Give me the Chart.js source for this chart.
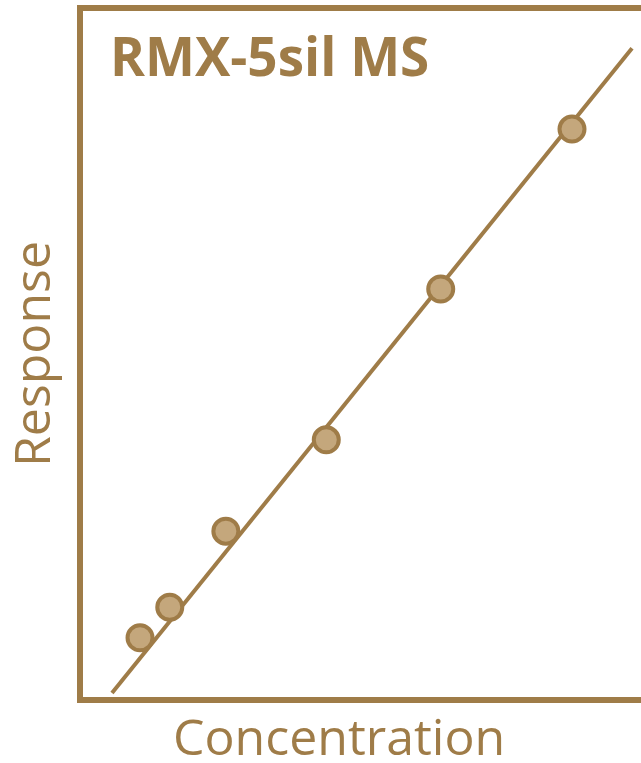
<!DOCTYPE html>
<html>
<head>
<meta charset="utf-8">
<script src="https://cdn.jsdelivr.net/npm/chart.js@4"></script>
<style>
  html, body { margin: 0; padding: 0; background: #fff; overflow: hidden; }
  #wrap { width: 641px; height: 763px; }
</style>
</head>
<body>
<div id="wrap"><canvas id="myChart" width="641" height="763"></canvas></div>
<script>
const chartTitle = "RMX-5sil MS";
const xTitle = "Concentration";
const yTitle = "Response";

// calibration standards (arbitrary units)
const concentration = [10.7, 16.0, 26.0, 43.9, 64.3, 87.7];
const response = [9.0, 13.4, 24.4, 37.6, 59.4, 82.5];

// fitted calibration line end points
const fitX = [5.7, 98.4];
const fitY = [1.0, 94.2];

const BROWN = "#9f7c48";
const FILL = "#c4a77c";

const standards = concentration.map((c, i) => ({ x: c, y: response[i] }));
const fitLine = fitX.map((x, i) => ({ x: x, y: fitY[i] }));

const textPlugin = {
  id: "texts",
  afterDraw(chart) {
    const ctx = chart.ctx;
    ctx.save();
    ctx.fillStyle = BROWN;
    ctx.textBaseline = "alphabetic";
    ctx.textAlign = "left";
    ctx.font = "bold 53px 'Open Sans'";
    ctx.fillText(chartTitle, 110, 76);
    ctx.font = "50px 'Open Sans'";
    ctx.fillText(xTitle, 173, 755);
    ctx.restore();
  },
};

const config = {
  type: "scatter",
  data: {
    datasets: [
      {
        label: "Fit",
        type: "line",
        data: fitLine,
        borderColor: BROWN,
        borderWidth: 4,
        pointRadius: 0,
        fill: false,
        order: 2,
      },
      {
        label: "Standards",
        data: standards,
        backgroundColor: FILL,
        borderColor: BROWN,
        borderWidth: 4,
        pointRadius: 12.5,
        order: 1,
      },
    ],
  },
  plugins: [textPlugin],
  options: {
    responsive: false,
    animation: false,
    layout: { padding: 0, autoPadding: false },
    plugins: { legend: { display: false }, tooltip: { enabled: false } },
    scales: {
      x: {
        type: "linear",
        position: "bottom",
        min: 0,
        max: 100,
        grid: { display: false },
        ticks: { display: false },
        border: { color: BROWN, width: 6 },
        afterFit(scale) { scale.height = 63; },
      },
      xTop: {
        type: "linear",
        position: "top",
        min: 0,
        max: 100,
        grid: { display: false },
        ticks: { display: false },
        border: { color: BROWN, width: 6 },
        afterFit(scale) { scale.height = 8; },
      },
      y: {
        type: "linear",
        position: "left",
        min: 0,
        max: 100,
        grid: { display: false },
        ticks: { display: false },
        border: { color: BROWN, width: 6 },
        title: {
          display: true,
          text: yTitle,
          color: BROWN,
          font: { family: "'Open Sans'", size: 50, lineHeight: 1 },
          padding: { top: 11, bottom: 0 },
        },
        afterFit(scale) { scale.width = 80; },
      },
    },
  },
};

const myChart = new Chart(document.getElementById("myChart"), config);
</script>
</body>
</html>
